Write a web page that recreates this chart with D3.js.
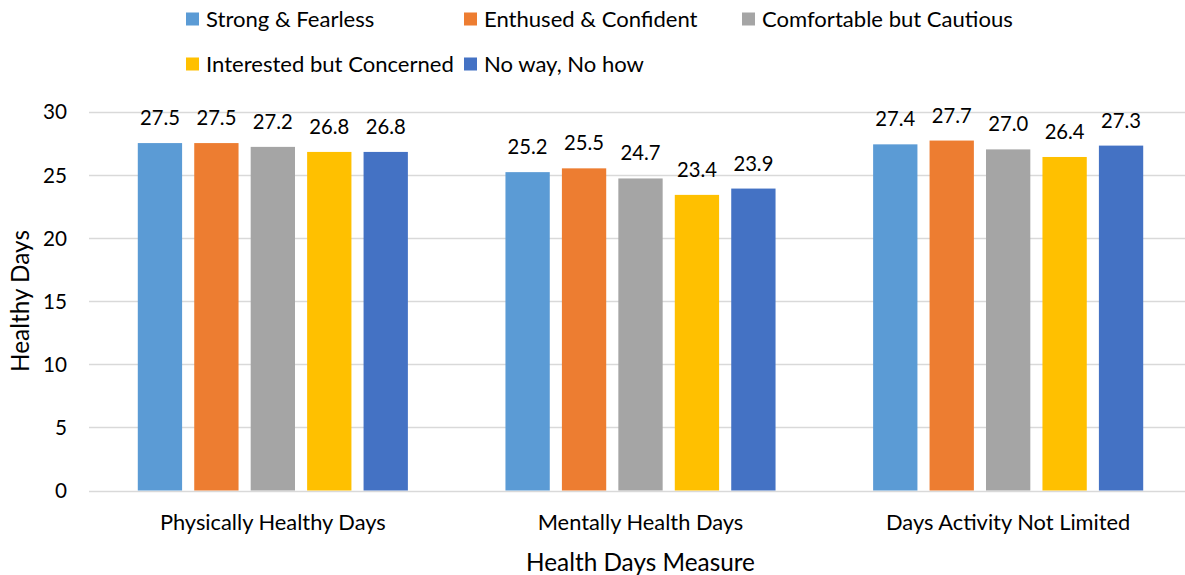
<!DOCTYPE html>
<html>
<head>
<meta charset="utf-8">
<script src="https://cdn.jsdelivr.net/npm/d3@7"></script>
<style>
  html, body { margin: 0; padding: 0; background: #fff; }
  svg { display: block; font-family: Lato, "Open Sans", sans-serif; }
</style>
</head>
<body>
<svg id="chart" width="1185" height="575"></svg>
<script>
// Health-days measures by cyclist type
const categories = ["Physically Healthy Days", "Mentally Health Days", "Days Activity Not Limited"];
const seriesNames = ["Strong & Fearless", "Enthused & Confident", "Comfortable but Cautious", "Interested but Concerned", "No way, No how"];
const seriesColors = ["#5B9BD5", "#ED7D31", "#A5A5A5", "#FFC000", "#4472C4"];
const strongFearless = [27.5, 25.2, 27.4];
const enthusedConfident = [27.5, 25.5, 27.7];
const comfortableCautious = [27.2, 24.7, 27.0];
const interestedConcerned = [26.8, 23.4, 26.4];
const noWayNoHow = [26.8, 23.9, 27.3];
const yTicks = [0, 5, 10, 15, 20, 25, 30];

const seriesValues = [strongFearless, enthusedConfident, comfortableCautious, interestedConcerned, noWayNoHow];

const svg = d3.select("#chart");
const plot = { left: 89, right: 1192, top: 111.5, bottom: 490.5 };

// font size that makes a sample string span the given width
function sizeFor(sample, width) {
  const probe = svg.append("text").attr("font-size", 20).text(sample);
  const w = probe.node().getComputedTextLength();
  probe.remove();
  return 20 * width / w;
}
const fsCategory = sizeFor("Physically Healthy Days", 226);
const fsLegend = sizeFor("Interested but Concerned", 248);
const fsValue = sizeFor("27.5", 40);
const fsTick = sizeFor("20", 24);
const fsTitle = sizeFor("Health Days Measure", 229);

const y = d3.scaleLinear().domain([0, 30]).range([plot.bottom, plot.top]);
const x0 = d3.scaleBand().domain(categories).range([plot.left, plot.right]).padding(0);
const groupPad = x0.bandwidth() * 0.1327;
const x1 = d3.scaleBand().domain(seriesNames)
  .range([groupPad, x0.bandwidth() - groupPad])
  .paddingInner(0.215).paddingOuter(0);

// gridlines
svg.append("g")
  .selectAll("line")
  .data(yTicks)
  .join("line")
  .attr("x1", plot.left).attr("x2", 1185)
  .attr("y1", d => Math.round(y(d)) + 0.5).attr("y2", d => Math.round(y(d)) + 0.5)
  .attr("stroke", "#D9D9D9").attr("stroke-width", 1.3);

// y axis labels
const yAxis = svg.append("g")
  .attr("transform", `translate(${plot.left},0)`)
  .call(d3.axisLeft(y).tickValues(yTicks).tickSize(0).tickPadding(22));
yAxis.select(".domain").remove();
yAxis.selectAll("text")
  .attr("font-size", fsTick).attr("fill", "#000")
  .attr("font-family", null).attr("dy", "0.36em");
yAxis.attr("font-family", null).attr("font-size", null);

// bars
const groups = svg.append("g")
  .selectAll("g")
  .data(categories)
  .join("g")
  .attr("transform", d => `translate(${x0(d)},0)`);

const cells = (c, ci) => seriesNames.map((s, si) => ({ s, si, v: seriesValues[si][ci] }));

groups.selectAll("rect")
  .data(cells)
  .join("rect")
  .attr("x", d => x1(d.s))
  .attr("width", x1.bandwidth())
  .attr("y", d => y(d.v))
  .attr("height", d => y(0) - y(d.v))
  .attr("fill", d => seriesColors[d.si]);

groups.selectAll("text.val")
  .data(cells)
  .join("text")
  .attr("class", "val")
  .attr("x", d => x1(d.s) + x1.bandwidth() / 2)
  .attr("y", d => y(d.v) - 18)
  .attr("text-anchor", "middle")
  .attr("font-size", fsValue)
  .attr("fill", "#000")
  .text(d => d.v.toFixed(1));

// category labels
const xAxis = svg.append("g")
  .attr("transform", `translate(0,${plot.bottom})`)
  .call(d3.axisBottom(x0).tickSize(0).tickPadding(0));
xAxis.select(".domain").remove();
xAxis.attr("font-family", null).attr("font-size", null);
xAxis.selectAll("text")
  .attr("font-size", fsCategory).attr("fill", "#000")
  .attr("y", 32).attr("dy", "0.36em");

// axis titles
svg.append("text")
  .attr("x", 640.5).attr("y", 562).attr("dy", "0.36em")
  .attr("text-anchor", "middle")
  .attr("font-size", fsTitle).attr("fill", "#000")
  .text("Health Days Measure");

svg.append("text")
  .attr("transform", "translate(20,301) rotate(-90)")
  .attr("dy", "0.36em")
  .attr("text-anchor", "middle")
  .attr("font-size", fsTitle).attr("fill", "#000")
  .text("Healthy Days");

// legend
const legendPos = [[186, 19], [464, 19], [742, 19], [186, 64], [464, 64]];
const legend = svg.append("g")
  .selectAll("g")
  .data(seriesNames)
  .join("g")
  .attr("transform", (d, i) => `translate(${legendPos[i][0]},${legendPos[i][1]})`);
legend.append("rect")
  .attr("x", 0).attr("y", -6.5).attr("width", 13).attr("height", 13)
  .attr("fill", (d, i) => seriesColors[i]);
legend.append("text")
  .attr("x", 20).attr("y", 0).attr("dy", "0.36em")
  .attr("font-size", fsLegend).attr("fill", "#000")
  .text(d => d);
</script>
</body>
</html>
